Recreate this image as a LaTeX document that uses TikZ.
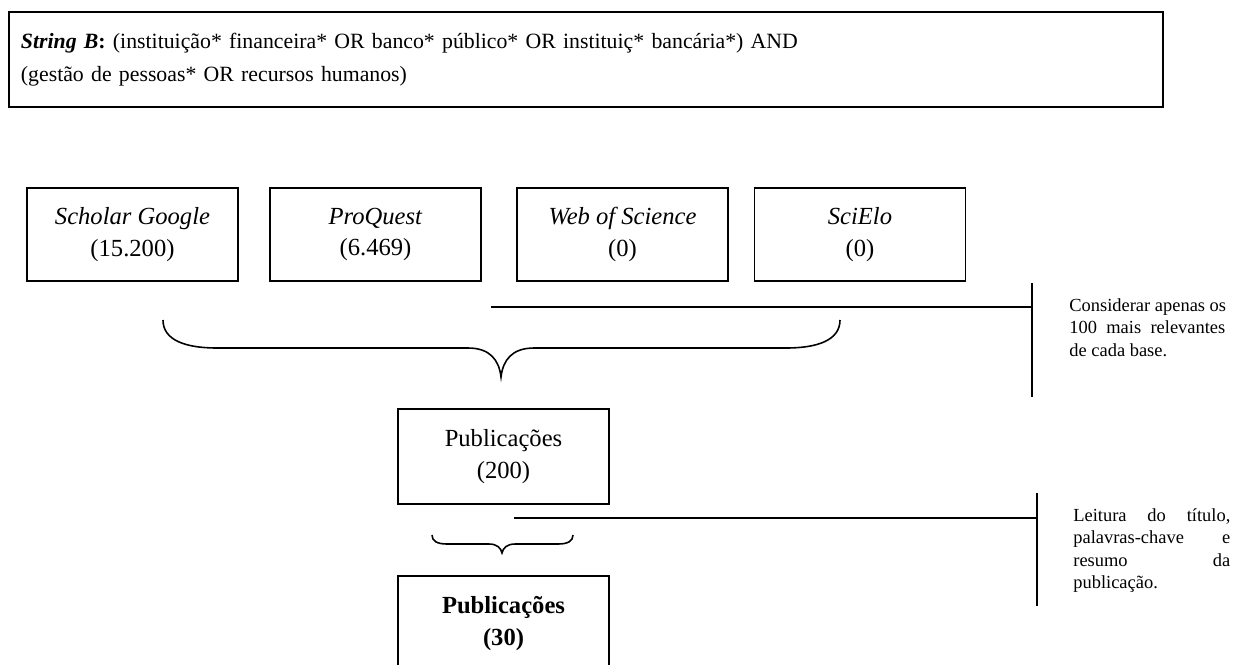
\documentclass[tikz,border=0pt]{standalone}
\usepackage{fontspec}
\setmainfont{Liberation Serif}
\usepackage{tikz}
\usetikzlibrary{positioning}

\begin{document}
\begin{tikzpicture}[x=0.02cm,y=-0.02cm,
	base/.style={draw,line width=0.9pt,minimum width=4.22cm,minimum height=1.86cm,align=center,font=\fontsize{14}{18}\selectfont},
	nota/.style={inner sep=0pt,align=left,anchor=north west,font=\fontsize{10.5}{12.8}\selectfont},
	conn/.style={line width=0.9pt}]
	\clip (0,0) rectangle (1246,664);

	% \draw search string
	\node[draw,line width=1.1pt,anchor=north west,minimum width=23.08cm,minimum height=1.9cm,
	  text width=22.6cm,inner xsep=0.24cm,align=left,font=\fontsize{12.4}{18.7}\selectfont] (str) at (8,11)
	  {\textbf{\textit{String B}:} (instituição* financeira* OR banco* público* OR instituiç* bancária*) AND\\
	  (gestão de pessoas* OR recursos humanos)};

	% \draw databases
	\node[base] (sg)  at (132.5,234.5) {\textit{Scholar Google}\\(15.200)};
	\node[base] (pq)  at (375.5,234.5) {\textit{ProQuest}\\(6.469)};
	\node[base] (wos) at (622.5,234.5) {\textit{Web of Science}\\(0)};
	\node[base] (sci) at (860,234.5) {\textit{SciElo}\\(0)};

	% \draw first brace
	\draw[conn] (163,320) .. controls (163,340) and (185,348) .. (217,348) -- (468,348)
	  .. controls (490,348) and (499,360) .. (501,377)
	  .. controls (503,360) and (512,348) .. (534,348) -- (786,348)
	  .. controls (818,348) and (840,340) .. (840,320);

	\coordinate (barAtop) at (1032,283);
	\coordinate (barAbot) at (1032,397);
	\coordinate (linA) at (491,307);
	\draw[conn] (barAtop) -- (barAbot);
	\draw[conn] (linA) -- (linA -| barAtop);
	\node[nota] (notaA) at (1069,298) {Considerar apenas os\\
	  \makebox[3.12cm][s]{100 mais relevantes}\\
	  de cada base.};

	% \draw publications
	\node[base,minimum height=1.9cm] (pubA) at (503.5,456.5) {Publicações\\(200)};

	% \draw second brace
	\draw[conn] (432,535) .. controls (432,541) and (437,544) .. (447,544) -- (489,544)
	  .. controls (497,544) and (501,548) .. (502,553)
	  .. controls (503,548) and (507,544) .. (515,544) -- (558,544)
	  .. controls (568,544) and (573,541) .. (573,535);

	\coordinate (barBtop) at (1037,493);
	\coordinate (barBbot) at (1037,606);
	\coordinate (linB) at (514,518);
	\draw[conn] (barBtop) -- (barBbot);
	\draw[conn] (linB) -- (linB -| barBtop);
	\node[nota] (notaB) at (1073,508) {\makebox[3.14cm][s]{Leitura do título,}\\
	  \makebox[3.14cm][s]{palavras-chave e}\\
	  \makebox[3.14cm][s]{resumo da}\\
	  publicação.};

	\node[base,minimum height=1.9cm,font=\fontsize{14}{18}\selectfont\bfseries] (pubB) at (503.5,623.5) {Publicações\\(30)};
\end{tikzpicture}
\end{document}
